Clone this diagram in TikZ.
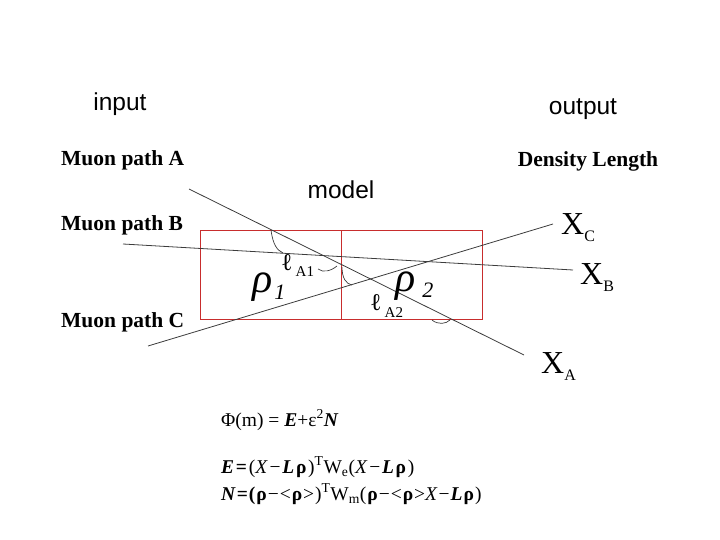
\documentclass[tikz,border=0pt]{standalone}
\usepackage{fontspec}
\setmainfont{Liberation Serif}
\newfontfamily\arialfont{Liberation Sans}
\newfontfamily\frmwide[LetterSpace=9]{Liberation Serif}
\newfontfamily\frmmid[LetterSpace=5]{Liberation Serif}
\definecolor{boxred}{RGB}{200,45,45}
\definecolor{pathgray}{RGB}{60,60,60}
\begin{document}
\begin{tikzpicture}[x=1pt,y=-1pt,
  head/.style={font=\arialfont\fontsize{24.5}{24.5}\selectfont, inner sep=0pt},
  muon/.style={font=\bfseries\fontsize{21.5}{21.5}\selectfont, inner sep=0pt, anchor=west},
  cell/.style={draw=boxred, line width=0.8pt},
  path/.style={draw=pathgray, line width=0.8pt},
  bow/.style={draw=pathgray, line width=0.7pt},
  xlab/.style={font=\fontsize{32}{32}\selectfont, inner sep=0pt, anchor=west},
  rholab/.style={inner sep=0pt, anchor=base west, text height=18pt, text depth=6pt},
  elllab/.style={inner sep=0pt, anchor=base west, text height=16pt, text depth=5pt},
  frm/.style={font=\fontsize{19.5}{19.5}\selectfont, inner sep=0pt, anchor=west}]
\useasboundingbox (0,0) rectangle (720,540);
% headings
\node[head] (input) at (120,104) {input};
\node[head] (output) at (583,109) {output};
\node[head] (model) at (341,190) {model};
\node[muon] (pA) at (61,160) {Muon path A};
\node[muon] (pB) at (61,225) {Muon path B};
\node[muon] (pC) at (61,322) {Muon path C};
\node[font=\bfseries\fontsize{21.5}{21.5}\selectfont, inner sep=0pt] (dl) at (588,161) {Density Length};
% boxes
\draw[cell] (200,230) rectangle (341.5,319.5);
\draw[cell] (341.5,230) rectangle (482,319.5);
% paths
\coordinate (a0) at (189,189);
\coordinate (a1) at (524,355);
\coordinate (b0) at (123,244);
\coordinate (b1) at (573,270);
\coordinate (c0) at (148,346);
\coordinate (cc1) at (553,224);
\draw[path] (a0) -- (a1);
\draw[path] (b0) -- (b1);
\draw[path] (c0) -- (cc1);
% X labels
\node[xlab] (xc) at (561,228) {X\raisebox{-7pt}{\fontsize{16}{16}\selectfont C}};
\node[xlab] (xb) at (580,278) {X\raisebox{-7pt}{\fontsize{16}{16}\selectfont B}};
\node[xlab] (xa) at (541,367) {X\raisebox{-7pt}{\fontsize{16}{16}\selectfont A}};
% rho labels
\node[rholab] (rho1) at (252,292) {\fontsize{42}{42}\selectfont\itshape ρ\kern2pt\raisebox{-7pt}{\fontsize{22}{22}\selectfont 1}};
\node[rholab] (rho2) at (395,291) {\fontsize{42}{42}\selectfont\itshape ρ\kern7pt\raisebox{-6pt}{\fontsize{22}{22}\selectfont 2}};
\node[elllab] (la1) at (281,270) {\fontsize{24}{24}\selectfont ℓ\kern3pt\raisebox{-6pt}{\fontsize{15}{15}\selectfont A1}};
\node[elllab] (la2) at (370,310) {\fontsize{24}{24}\selectfont ℓ\kern3pt\raisebox{-7pt}{\fontsize{15}{15}\selectfont A2}};
% bows
\draw[bow] (271,230) .. controls (273,245) and (277,250) .. (283,253);
\draw[bow] (318,269) .. controls (323,273) and (331,271) .. (337,266);
\draw[bow] (342,267) .. controls (342,278) and (346,284) .. (352,285);
\draw[bow] (432,320) .. controls (438,325) and (446,324) .. (450,320);
% formulas
\node[frm] (f1) at (221,420) {Φ(m) = \textbf{\textit{E}}+ε\textsuperscript{2}\textbf{\textit{N}}};
\node[frm] (f2) at (221,467) {\frmwide\textbf{\textit{E}=}(\textit{X}−\textbf{\textit{L}ρ})\textsuperscript{T}W\textsubscript{e}(\textit{X}−\textbf{\textit{L}ρ})};
\node[frm] (f3) at (221,494) {\frmmid\textbf{\textit{N}=(ρ}−<\textbf{ρ}>)\textsuperscript{T}W\textsubscript{m}(\textbf{ρ}−<\textbf{ρ}>\textit{X}−\textbf{\textit{L}ρ})};
\end{tikzpicture}
\end{document}
